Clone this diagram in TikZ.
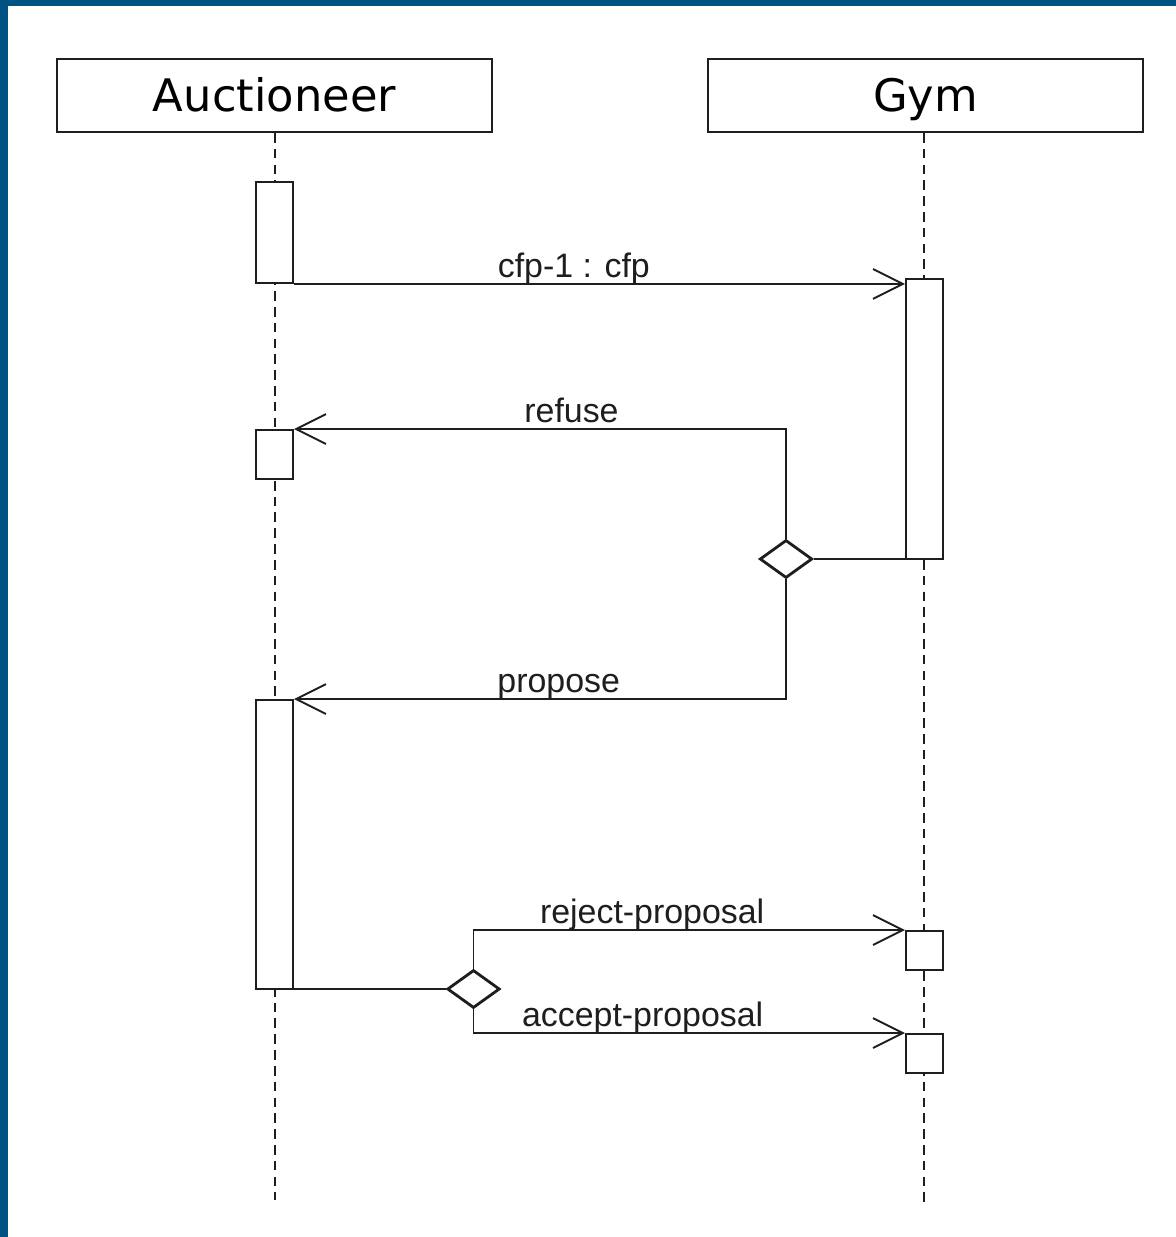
\documentclass[tikz,border=0pt]{standalone}
\usepackage{fontspec}
\setmainfont{Liberation Sans}
\newfontfamily\headfont{DejaVu Sans}
\usetikzlibrary{shapes.geometric,arrows.meta,positioning}
\definecolor{slideblue}{RGB}{0,82,130}
\definecolor{ink}{RGB}{30,30,30}

\tikzset{
  lifebox/.style={draw=ink, line width=1.1pt, minimum width=8.7cm, minimum height=1.46cm,
    font=\headfont\fontsize{25.5}{30}\selectfont, text height=18.5pt, text depth=0pt},
  act/.style={draw=ink, fill=white, line width=1.1pt, minimum width=0.74cm, inner sep=0pt},
  lifeline/.style={ink, line width=1.1pt, dash pattern=on 5.5pt off 3.5pt},
  decision/.style={diamond, draw=ink, fill=white, line width=1.6pt, inner sep=0pt,
    minimum width=1.05cm, minimum height=0.76cm},
  link/.style={ink, line width=1.1pt},
  msg/.style={link, -{Straight Barb[length=17pt,width=17pt]}},
  lbl/.style={anchor=base, yshift=3.5pt, inner sep=0pt, font=\fontsize{19.3}{22}\selectfont},
}

\begin{document}
\begin{tikzpicture}[x=0.02cm, y=-0.02cm]
  \useasboundingbox (0,0) rectangle (1176,1237);
  \fill[white] (0,0) rectangle (1176,1237);
  \fill[slideblue] (0,0) rectangle (8,1237);
  \fill[slideblue] (0,0) rectangle (1176,6);

  % participants
  \node[lifebox] (auc) at (274.5,95.5) {Auctioneer};
  \node[lifebox] (gym) at (925.5,95.5) {Gym};
  \coordinate (aucEnd) at (275,1200);
  \coordinate (gymEnd) at (924,1205);
  \draw[lifeline] (auc.south -| aucEnd) -- (aucEnd);
  \draw[lifeline] (gym.south -| gymEnd) -- (gymEnd);

  % activations
  \node[act, minimum height=2.02cm] (a1) at (274.5,232.5) {};
  \node[act, minimum height=0.98cm] (a2) at (274.5,454.5) {};
  \node[act, minimum height=5.78cm] (a3) at (274.5,844.5) {};
  \node[act, minimum height=5.6cm]  (g1) at (924.5,419) {};
  \node[act, minimum height=0.78cm] (g2) at (924.5,950.5) {};
  \node[act, minimum height=0.78cm] (g3) at (924.5,1053.5) {};

  % choices
  \node[decision] (d1) at (786,559) {};
  \node[decision] (d2) at (473.5,989) {};

  % messages
  \draw[msg] (a1.south east) -- (a1.south east -| g1.west) node[lbl, pos=0.458] {cfp-1 : cfp};
  \draw[link] (d1.east) -- (d1.east -| g1.west);
  \draw[msg] (d1.north) |- (a2.north east) node[lbl, pos=0.718] {refuse};
  \draw[msg] (d1.south) |- (a3.north east) node[lbl, pos=0.731] {propose};
  \draw[link] (d2.west -| a3.east) -- (d2.west);
  \draw[msg] (d2.north) |- (g2.north west) node[lbl, pos=0.707] {reject-proposal};
  \draw[msg] (d2.south) |- (g3.north west) node[lbl, pos=0.696] {accept-proposal};
\end{tikzpicture}
\end{document}
